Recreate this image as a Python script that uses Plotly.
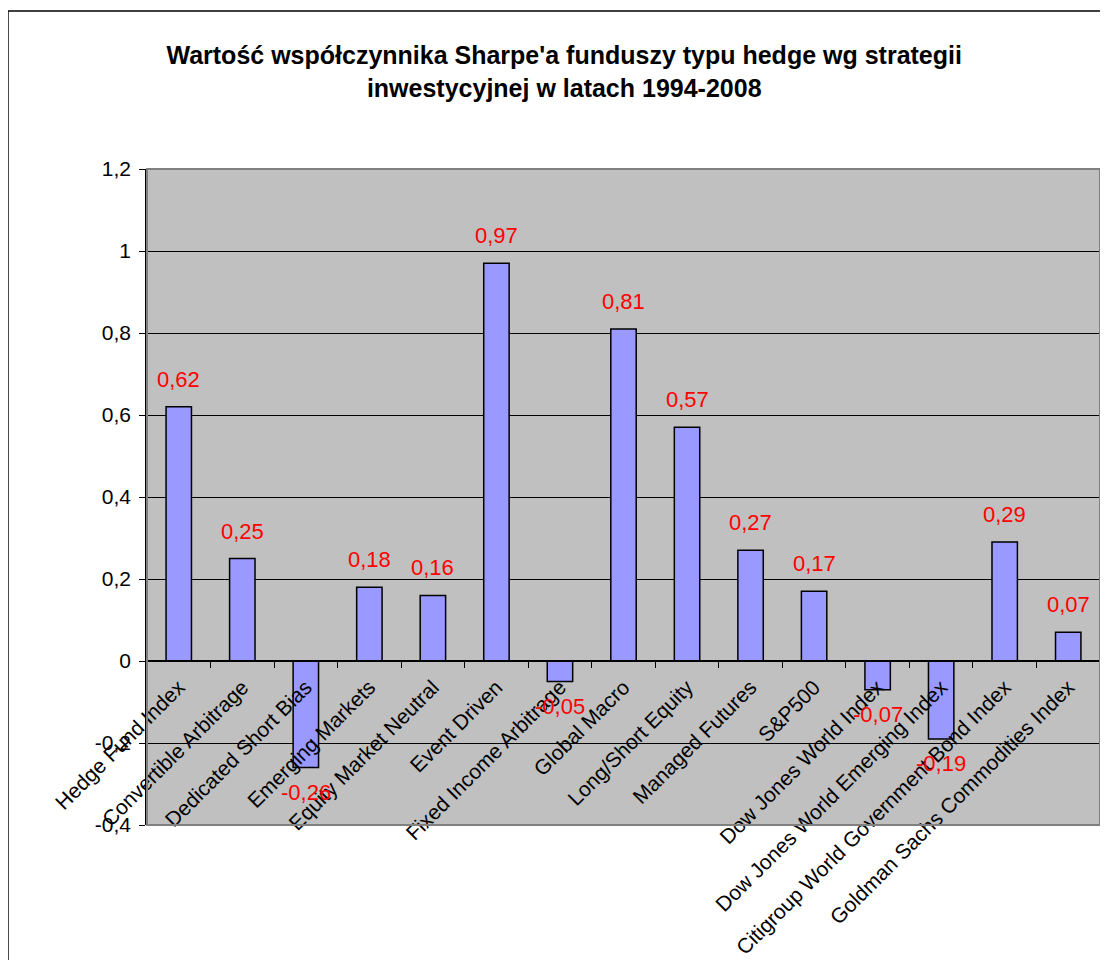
import plotly.graph_objects as go

categories = [
    "Hedge Fund Index", "Convertible Arbitrage", "Dedicated Short Bias",
    "Emerging Markets", "Equity Market Neutral", "Event Driven",
    "Fixed Income Arbitrage", "Global Macro", "Long/Short Equity",
    "Managed Futures", "S&P500", "Dow Jones World Index",
    "Dow Jones World Emerging Index", "Citigroup World Government Bond Index",
    "Goldman Sachs Commodities Index",
]
sharpe = [0.62, 0.25, -0.26, 0.18, 0.16, 0.97, -0.05, 0.81, 0.57, 0.27,
          0.17, -0.07, -0.19, 0.29, 0.07]
y_ticks = [-0.4, -0.2, 0, 0.2, 0.4, 0.6, 0.8, 1, 1.2]
y_ticktext = ["-0,4", "-0,2", "0", "0,2", "0,4", "0,6", "0,8", "1", "1,2"]

FONT = "Liberation Sans, Arial, sans-serif"


def pl(v):
    return ("%.2f" % v).replace(".", ",")


fig = go.Figure()
fig.add_trace(go.Bar(
    x=categories, y=sharpe, width=0.4,
    marker=dict(color="#9999FF", line=dict(color="black", width=1.5)),
    hoverinfo="skip",
))

for c, v in zip(categories, sharpe):
    fig.add_annotation(
        x=c, y=v, text=pl(v), showarrow=False,
        yanchor="bottom" if v >= 0 else "top",
        yshift=13 if v >= 0 else -10,
        font=dict(family=FONT, size=22, color="#FF0000"),
    )

# chart area border (runs past the picture on right/bottom)
fig.add_shape(type="rect", xref="paper", yref="paper",
              x0=-0.1459, x1=1.03, y0=-0.25, y1=1.2409,
              line=dict(color="black", width=1.5))
# plot area border
fig.add_shape(type="rect", xref="paper", yref="paper",
              x0=0, x1=1, y0=0, y1=1, layer="above",
              line=dict(color="#808080", width=2))

fig.update_layout(
    width=1108, height=960,
    margin=dict(l=139, r=16, t=161, b=143),
    paper_bgcolor="white", plot_bgcolor="#C0C0C0",
    showlegend=False,
    font=dict(family=FONT, size=20, color="black"),
    title=dict(
        text="Wartość współczynnika Sharpe'a funduszy typu hedge wg strategii<br>inwestycyjnej w latach 1994-2008",
        x=0.502, xanchor="center", xref="container",
        y=1 - 56 / 960, yanchor="top", yref="container",
        font=dict(family=FONT, size=25, color="black", weight="bold"),
    ),
)
fig.update_yaxes(
    range=[-0.4, 1.2], tickvals=y_ticks, ticktext=y_ticktext,
    showgrid=True, gridcolor="black", gridwidth=1,
    zeroline=False, showline=True, linecolor="black", linewidth=1.5,
    ticks="outside", ticklen=6, tickcolor="black", ticklabelstandoff=4,
    tickfont=dict(family=FONT, size=21), automargin=False,
)
fig.update_xaxes(
    anchor="free", position=0.25, automargin=False,
    showgrid=False, showline=True, linecolor="black", linewidth=1.5,
    ticks="outside", ticklen=6, tickcolor="black", tickson="boundaries",
    ticklabelstandoff=5,
    tickangle=-45, tickfont=dict(family=FONT, size=21),
)

fig.write_html("out.html")
